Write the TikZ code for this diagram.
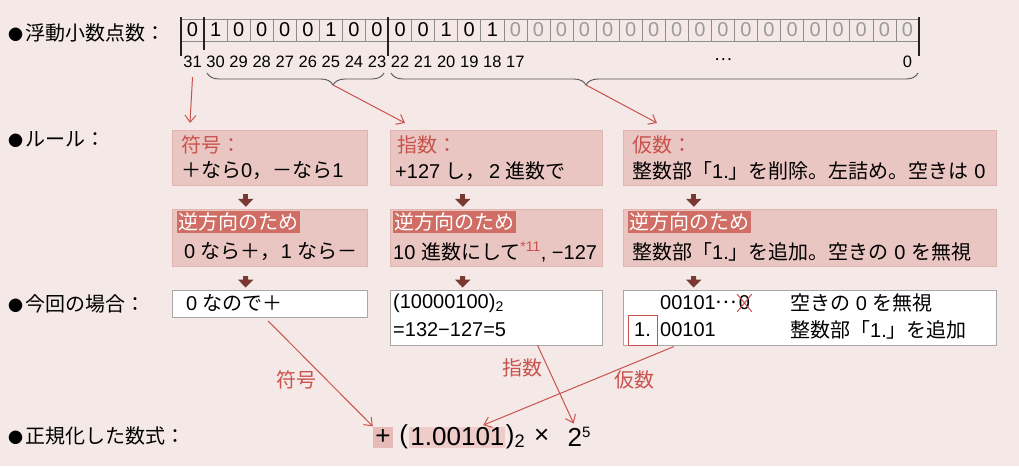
\documentclass[tikz,border=0pt]{standalone}
\usepackage{fontspec}
\setmainfont{Liberation Sans}
\newfontfamily\jpfont{Noto Sans CJK JP}
% switch to the Japanese font for CJK characters
\XeTeXinterchartokenstate=1
\newXeTeXintercharclass\jpcls
\newcount\jpc
\jpc="3000 \loop\XeTeXcharclass\jpc=\jpcls \ifnum\jpc<"9FFF \advance\jpc by 1 \repeat
\jpc="FF00 \loop\XeTeXcharclass\jpc=\jpcls \ifnum\jpc<"FFEF \advance\jpc by 1 \repeat
\XeTeXcharclass"2026=\jpcls
\XeTeXcharclass"25CF=\jpcls
\XeTeXinterchartoks 0 \jpcls = {\jpfont}
\XeTeXinterchartoks 4095 \jpcls = {\jpfont}
\XeTeXinterchartoks \jpcls 0 = {\rmfamily}
\XeTeXinterchartoks \jpcls 4095 = {\rmfamily}
\usepackage{tikz}
\usetikzlibrary{arrows.meta,positioning,calc,decorations.pathreplacing}
\definecolor{paper}{HTML}{F5E9E8}
\definecolor{rulebg}{HTML}{EAC6C2}
\definecolor{rulebd}{HTML}{E0B4AF}
\definecolor{hlbg}{HTML}{D06E66}
\definecolor{ttl}{HTML}{C9524C}
\definecolor{darr}{HTML}{7A3832}
\definecolor{cellln}{HTML}{8C8C8C}
\definecolor{sepc}{HTML}{222222}
\definecolor{brcc}{HTML}{555555}
\definecolor{zerogray}{HTML}{9A9A9A}
\definecolor{caseln}{HTML}{A8A8A8}
\definecolor{fplusbg}{HTML}{E6BAB6}
\definecolor{fmanbg}{HTML}{EDCCC9}
\newcommand{\dotmark}{{\fontsize{15}{18}\selectfont ●}\hspace{2pt}}
\newcommand{\middots}{\raisebox{0.3em}{…}}

\begin{document}
\begin{tikzpicture}[x=1pt, y=-1pt,
  lbl/.style={anchor=west, inner sep=0pt, font=\fontsize{20}{24}\selectfont},
  cell/.style={draw=cellln, line width=0.6pt, minimum width=23.06pt,
               minimum height=22pt, inner sep=0pt, font=\fontsize{20}{24}\selectfont},
  bitno/.style={inner sep=0pt, font=\fontsize{16.5}{19}\selectfont},
  sep/.style={draw=sepc, line width=2pt},
  brc/.style={draw=brcc, line width=0.9pt, decorate},
  rulebox/.style={fill=rulebg, draw=rulebd, inner sep=0pt},
  casebox/.style={fill=white, draw=caseln, line width=0.8pt, inner sep=0pt},
  hl/.style={anchor=west, fill=hlbg, text=white, inner sep=1.5pt,
             font=\fontsize{20}{24}\selectfont},
  fml/.style={inner sep=0pt, font=\fontsize{26}{30}\selectfont},
  dark/.style={draw=darr, line width=5pt, -{Triangle[length=8pt,width=15pt]}},
  link/.style={draw=ttl, line width=1pt, -{Straight Barb[length=7pt,width=11pt]}}
]
  \fill[paper] (0,0) rectangle (1019,466);
  \useasboundingbox (0,0) rectangle (1019,466);

  % Row labels
  \node[lbl] (lfloat) at (8,33) {\dotmark 浮動小数点数：};
  \node[lbl] (lrule) at (8,140) {\dotmark ルール：};
  \node[lbl] (lcase) at (8,304) {\dotmark 今回の場合：};
  \node[lbl] (lnorm) at (8,436) {\dotmark 正規化した数式：};

  % Bit cells
  \foreach \v [count=\i from 0] in {0,1,0,0,0,0,1,0,0,0,0,1,0,1}
    \node[cell] (b\i) at ({181+23.06*(\i+0.5)},30) {\v};
  \foreach \i in {14,...,31}
    \node[cell, text=zerogray] (b\i) at ({181+23.06*(\i+0.5)},30) {0};
  \draw[sep] (181,17) -- (181,56);
  \draw[sep] (204,17) -- (204,50);
  \draw[sep] (388,17) -- (388,56);
  \draw[sep] (919,17) -- (919,56);

  % Bit numbers
  \foreach \i in {0,...,14} {
    \pgfmathtruncatemacro\n{31-\i}
    \node[bitno] (n\i) at ({181+23.06*(\i+0.5)},62) {\n};
  }
  \node[bitno] (ndots) at (723,62) {\middots};
  \node[bitno] (n31) at ({181+23.06*31.5},62) {0};

  % Braces
  \draw[brc, decoration={brace, mirror, amplitude=12pt, aspect=0.712}] (207,73) -- (384,73);
  \draw[brc, decoration={brace, mirror, amplitude=12pt, aspect=0.37}] (391,73) -- (918,73);
  \coordinate (bexp) at (333,85);
  \coordinate (bman) at (586,85);
  \coordinate (sgnin) at (190,123);
  \coordinate (expin) at (405,123);
  \coordinate (manin) at (657,123);

  % Rules
  \node[rulebox, minimum width=195pt, minimum height=55pt] (sgnrule) at (269.5,157.5) {};
  \node[rulebox, minimum width=212pt, minimum height=55pt] (exprule) at (496,157.5) {};
  \node[rulebox, minimum width=373pt, minimum height=55pt] (manrule) at (809.5,157.5) {};
  \node[lbl, text=ttl] (sgnttl) at (181,145) {符号：};
  \node[lbl] (sgntxt) at (181,171) {＋なら0，－なら1};
  \node[lbl, text=ttl] (expttl) at (397,145) {指数：};
  \node[lbl] (exptxt) at (395,171) {+127 し，\,2 進数で};
  \node[lbl, text=ttl] (manttl) at (632,145) {仮数：};
  \node[lbl] (mantxt) at (632,171) {整数部「1.」を削除。左詰め。空きは 0};

  \draw[link] (n0.south) ++(0,9) -- (sgnin);
  \draw[link] (bexp) -- (expin);
  \draw[link] (bman) -- (manin);

  % Inverse direction
  \node[rulebox, minimum width=195pt, minimum height=57pt] (sgninv) at (269.5,237.5) {};
  \node[rulebox, minimum width=212pt, minimum height=57pt] (expinv) at (496,237.5) {};
  \node[rulebox, minimum width=373pt, minimum height=57pt] (maninv) at (809.5,237.5) {};
  \node[hl] (sgnhl) at (177,222) {逆方向のため};
  \node[lbl] (sgninvtxt) at (184,252) {0 なら＋，1 なら－};
  \node[hl] (exphl) at (393,222) {逆方向のため};
  \node[lbl] (expinvtxt) at (393,252) {10 進数にして{\color{ttl}\textsuperscript{*11}}, −127};
  \node[hl] (manhl) at (628,222) {逆方向のため};
  \node[lbl] (maninvtxt) at (632,252) {整数部「1.」を追加。空きの 0 を無視};

  \draw[dark, shorten <=9pt, shorten >=2pt] ([xshift=74pt]sgnrule.south west) -- ([xshift=74pt]sgninv.north west);
  \draw[dark, shorten <=9pt, shorten >=2pt] ([xshift=73pt]exprule.south west) -- ([xshift=73pt]expinv.north west);
  \draw[dark, shorten <=9pt, shorten >=2pt] ([xshift=71pt]manrule.south west) -- ([xshift=71pt]maninv.north west);

  % This case
  \node[casebox, minimum width=195pt, minimum height=27pt] (sgncase) at (269.5,303.5) {};
  \node[casebox, minimum width=212pt, minimum height=55pt] (expcase) at (496,317.5) {};
  \node[casebox, minimum width=373pt, minimum height=55pt] (mancase) at (809.5,317.5) {};
  \node[lbl] (sgncasetxt) at (186,303) {0 なので＋};
  \node[lbl] (expbin) at (393,303) {(10000100)\textsubscript{2}};
  \node[lbl] (expdec) at (393,330) {=132−127=5};
  \node[lbl] (manlead) at (660,303) {00101\middots};
  \node[lbl, inner sep=1.5pt, right=0pt of manlead] (manx) {0};
  \draw[ttl, line width=1pt] (manx.north west) -- (manx.south east)
                             (manx.south west) -- (manx.north east);
  \node[lbl] (manskip) at (790,303) {空きの 0 を無視};
  \node[draw=ttl, line width=1pt, inner sep=2pt, minimum width=29pt, minimum height=30pt,
        font=\fontsize{20}{24}\selectfont] (manone) at (642.5,330) {1.};
  \node[lbl] (manfrac) at (660,330) {00101};
  \node[lbl] (manadd) at (790,330) {整数部「1.」を追加};

  \draw[dark, shorten <=10pt, shorten >=2pt] ([xshift=74pt]sgninv.south west) -- ([xshift=74pt]sgncase.north west);
  \draw[dark, shorten <=10pt, shorten >=2pt] ([xshift=73pt]expinv.south west) -- ([xshift=73pt]expcase.north west);
  \draw[dark, shorten <=10pt, shorten >=2pt] ([xshift=71pt]maninv.south west) -- ([xshift=71pt]mancase.north west);

  % Normalized form
  \node[fml, fill=fplusbg, minimum width=20pt, minimum height=21pt] (fplus) at (383,437) {+};
  \node[fml, right=6pt of fplus] (fopen) {(};
  \node[fml, fill=fmanbg, inner xsep=1pt, minimum height=21pt, right=1pt of fopen] (fman) {1.00101};
  \node[fml, right=0pt of fman] (fclose) {)\textsubscript{2}\hspace{9pt}×};
  \node[fml, right=18pt of fclose] (fbase) {2\textsuperscript{\fontsize{15}{18}\selectfont 5}};

  \draw[link, shorten <=5pt] ([xshift=93pt]sgncase.south west) -- (fplus.north west);
  \draw[link, shorten >=4pt] ([xshift=148pt]expcase.south west) -- ([xshift=-4pt]fbase.north);
  \draw[link, shorten <=3pt, shorten >=3pt] ([xshift=54pt]mancase.south west) -- ([xshift=23pt]fman.north);
  \node[lbl, text=ttl] (tsgn) at (276,380) {符号};
  \node[lbl, text=ttl] (texp) at (502,368) {指数};
  \node[lbl, text=ttl] (tman) at (614,380) {仮数};
\end{tikzpicture}
\end{document}
